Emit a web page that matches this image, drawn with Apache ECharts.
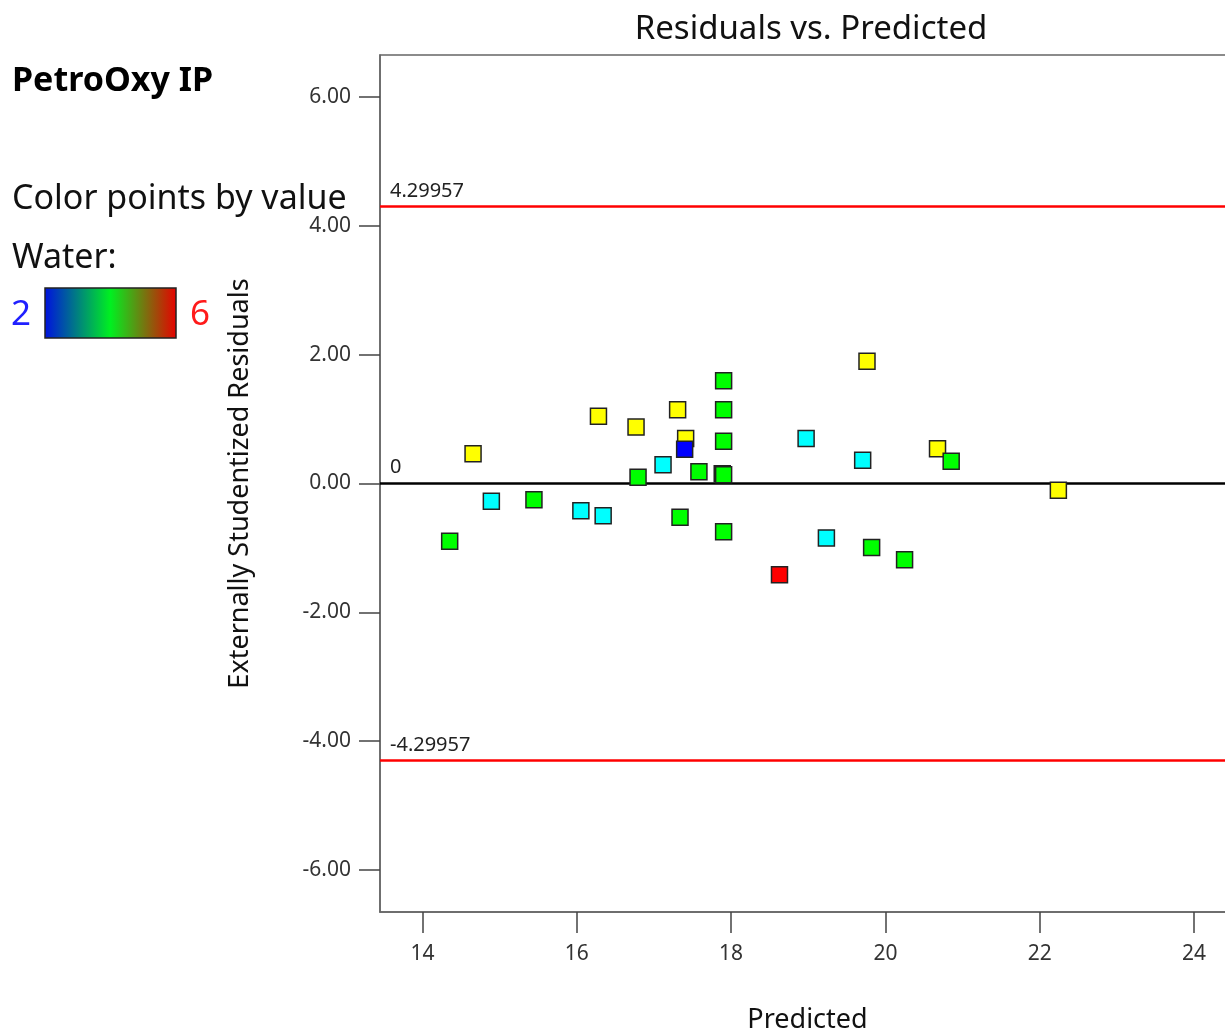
<!DOCTYPE html>
<html>
<head>
<meta charset="utf-8">
<script src="https://cdn.jsdelivr.net/npm/echarts@6/dist/echarts.min.js"></script>
<style>html,body{margin:0;padding:0;background:#fff;}#c{width:1225px;height:1031px;}</style>
</head>
<body>
<div id="c"></div>
<script>
// ---- data ----
var predicted = [14.353, 14.656, 14.893, 15.445, 16.053, 16.342, 16.281, 16.768, 16.794, 17.118,
                 17.307, 17.338, 17.411, 17.398, 17.583, 17.903, 17.903, 17.903, 17.885, 17.903,
                 17.903, 18.627, 18.972, 19.235, 19.761, 19.705, 19.821, 20.248, 20.675, 20.852, 22.241];
var residuals = [-0.896, 0.461, -0.274, -0.253, -0.424, -0.502, 1.045, 0.875, 0.098, 0.290,
                 1.144, -0.523, 0.699, 0.533, 0.181, 1.595, 1.144, 0.657, 0.150, 0.135,
                 -0.750, -1.418, 0.699, -0.844, 1.899, 0.362, -0.994, -1.185, 0.539, 0.347, -0.104];
var water = [4, 5, 3, 4, 3, 3, 5, 5, 4, 3,
             5, 4, 5, 2, 4, 4, 4, 4, 4, 4,
             4, 6, 3, 3, 5, 3, 4, 4, 5, 4, 5];
var xTicks = [14, 16, 18, 20, 22, 24];
var yTicks = [-6, -4, -2, 0, 2, 4, 6];
var limitValue = 4.29957;
var waterColors = {2: '#0000ff', 3: '#00ffff', 4: '#00ff00', 5: '#ffff00', 6: '#ff0000'};

var FONT = '"Noto Sans", "Open Sans", sans-serif';
var pts = predicted.map(function (p, i) {
  return { value: [p, residuals[i]], itemStyle: { color: waterColors[water[i]] } };
});

var chart = echarts.init(document.getElementById('c'), null, { renderer: 'canvas' });
chart.setOption({
  animation: false,
  backgroundColor: '#fff',
  textStyle: { fontFamily: FONT },
  title: {
    text: 'Residuals vs. Predicted',
    left: 806, top: 8, textAlign: 'center',
    textStyle: { fontFamily: FONT, fontSize: 33, fontWeight: 'normal', color: '#111' }
  },
  grid: {
    left: 380, top: 55, right: -10, bottom: 119,
    outerBoundsMode: 'none', containLabel: false,
    show: true, borderColor: '#666', borderWidth: 1.5, backgroundColor: '#fff'
  },
  xAxis: {
    type: 'value', min: 13.45, max: 24.53,
    name: 'Predicted', nameLocation: 'middle', nameGap: 95,
    nameTextStyle: { fontFamily: FONT, fontSize: 27, color: '#111' },
    splitLine: { show: false },
    axisLine: { show: true, onZero: false, lineStyle: { color: '#666', width: 1.5 } },
    axisTick: { show: true, length: 21, customValues: xTicks, lineStyle: { color: '#444', width: 1.5 } },
    axisLabel: { customValues: xTicks, margin: 32, fontFamily: FONT, fontSize: 21, color: '#333' }
  },
  yAxis: {
    type: 'value', min: -6.65, max: 6.65,
    name: 'Externally Studentized Residuals', nameLocation: 'middle', nameGap: 126,
    nameTextStyle: { fontFamily: FONT, fontSize: 27, color: '#111' },
    splitLine: { show: false },
    axisLine: { show: true, onZero: false, lineStyle: { color: '#666', width: 1.5 } },
    axisTick: { show: true, length: 21, customValues: yTicks, lineStyle: { color: '#444', width: 1.5 } },
    axisLabel: {
      customValues: yTicks, margin: 29, fontFamily: FONT, fontSize: 21, color: '#333',
      formatter: function (v) { return v.toFixed(2); }
    }
  },
  series: [
    {
      type: 'scatter',
      symbol: 'rect', symbolSize: 16,
      itemStyle: { borderColor: '#222', borderWidth: 1.5, opacity: 1 },
      data: pts,
      z: 5,
      markLine: {
        silent: true, symbol: ['none', 'none'],
        animation: false,
        data: [
          { yAxis: limitValue, lineStyle: { color: '#ff0000', width: 2.5, type: 'solid' },
            label: { formatter: String(limitValue) } },
          { yAxis: 0, lineStyle: { color: '#000', width: 2.5, type: 'solid' },
            label: { formatter: '0', distance: [10, 6] } },
          { yAxis: -limitValue, lineStyle: { color: '#ff0000', width: 2.5, type: 'solid' },
            label: { formatter: String(-limitValue) } }
        ],
        label: {
          show: true, position: 'insideStartTop', distance: [10, 5],
          fontFamily: FONT, fontSize: 20, color: '#222'
        }
      }
    }
  ],
  graphic: [
    { type: 'text', left: 12, top: 64, style: { text: 'PetroOxy IP', font: 'bold 34px ' + FONT, fill: '#000' } },
    { type: 'text', left: 12, top: 182, style: { text: 'Color points by value', font: '34px ' + FONT, fill: '#111' } },
    { type: 'text', left: 12, top: 241, style: { text: 'Water:', font: '34px ' + FONT, fill: '#111' } },
    { type: 'text', left: 11, top: 298, style: { text: '2', font: '35px ' + FONT, fill: '#2020ff' } },
    { type: 'text', left: 190, top: 298, style: { text: '6', font: '35px ' + FONT, fill: '#ff1a1a' } },
    {
      type: 'rect', shape: { x: 45, y: 288, width: 131, height: 50 },
      style: {
        stroke: '#222', lineWidth: 1.5,
        fill: new echarts.graphic.LinearGradient(0, 0, 1, 0, [
          { offset: 0, color: '#0010e0' },
          { offset: 0.5, color: '#00f020' },
          { offset: 1, color: '#e80000' }
        ])
      }
    }
  ]
});
</script>
</body>
</html>
